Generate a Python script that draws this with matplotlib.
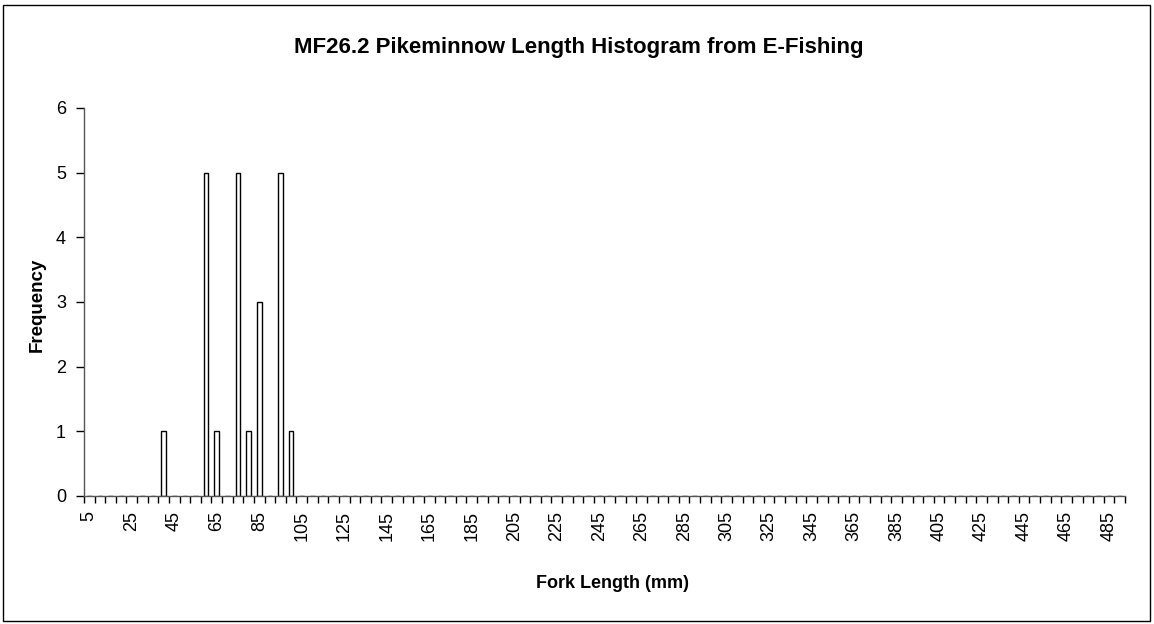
import matplotlib
matplotlib.use("Agg")
import matplotlib.pyplot as plt
from matplotlib.patches import Rectangle
import numpy as np

plt.rcParams['font.family'] = ['Liberation Sans', 'DejaVu Sans']

# ===== DATA =====
title = "MF26.2 Pikeminnow Length Histogram from E-Fishing"
x_label = "Fork Length (mm)"
y_label = "Frequency"

bins = list(range(5, 495, 5))  # 5 .. 490 mm
counts = [
    0, 0, 0, 0, 0, 0, 0, 1, 0, 0, 0, 5, 1, 0, 5, 1, 3, 0, 5, 1,
    0, 0, 0, 0, 0, 0, 0, 0, 0, 0, 0, 0, 0, 0, 0, 0, 0, 0, 0, 0,
    0, 0, 0, 0, 0, 0, 0, 0, 0, 0, 0, 0, 0, 0, 0, 0, 0, 0, 0, 0,
    0, 0, 0, 0, 0, 0, 0, 0, 0, 0, 0, 0, 0, 0, 0, 0, 0, 0, 0, 0,
    0, 0, 0, 0, 0, 0, 0, 0, 0, 0, 0, 0, 0, 0, 0, 0, 0, 0,
]
y_ticks = [0, 1, 2, 3, 4, 5, 6]

# ===== FIGURE =====
fig = plt.figure(figsize=(11.54, 6.24), dpi=100)
ax = fig.add_axes([84 / 1154, 1 - 496 / 624, (1125 - 84) / 1154, (496 - 108) / 624])

# outer chart border
fig.patches.append(Rectangle((3 / 1154, 3 / 624), 1147 / 1154, 616 / 624,
                             transform=fig.transFigure, fill=False,
                             edgecolor="black", linewidth=1))

pos = np.arange(len(bins))
ax.bar(pos, counts, width=0.44, color="white", edgecolor="black", linewidth=1)

ax.set_xlim(-0.5, len(bins) - 0.5)
ax.set_ylim(0, 6)

# tick marks at category boundaries, labels every 4th category
ax.set_xticks(np.arange(len(bins) + 1) - 0.5)
ax.set_xticklabels([])
ax.tick_params(axis="x", which="major", direction="out", length=5, width=1)
ax.set_xticks(pos[::4], minor=True)
ax.set_xticklabels([str(b) for b in bins[::4]], minor=True, rotation=90, fontsize=13)
ax.tick_params(axis="x", which="minor", length=0, pad=11)

ax.set_yticks(y_ticks)
ax.set_yticklabels([str(v) for v in y_ticks], fontsize=13)
ax.tick_params(axis="y", direction="out", length=6, width=1, pad=7)

for side in ["top", "right"]:
    ax.spines[side].set_visible(False)
for side in ["left", "bottom"]:
    ax.spines[side].set_color("#555555")
    ax.spines[side].set_linewidth(1)

fig.text(579 / 1154, 1 - 47 / 624, title, ha="center", va="center",
         fontsize=16, fontweight="bold")
fig.text(612 / 1154, 1 - 583 / 624, x_label, ha="center", va="center",
         fontsize=13, fontweight="bold")
fig.text(37 / 1154, 1 - 305 / 624, y_label, ha="center", va="center",
         rotation=90, fontsize=13.5, fontweight="bold")

fig.savefig("out.png", dpi=100)
